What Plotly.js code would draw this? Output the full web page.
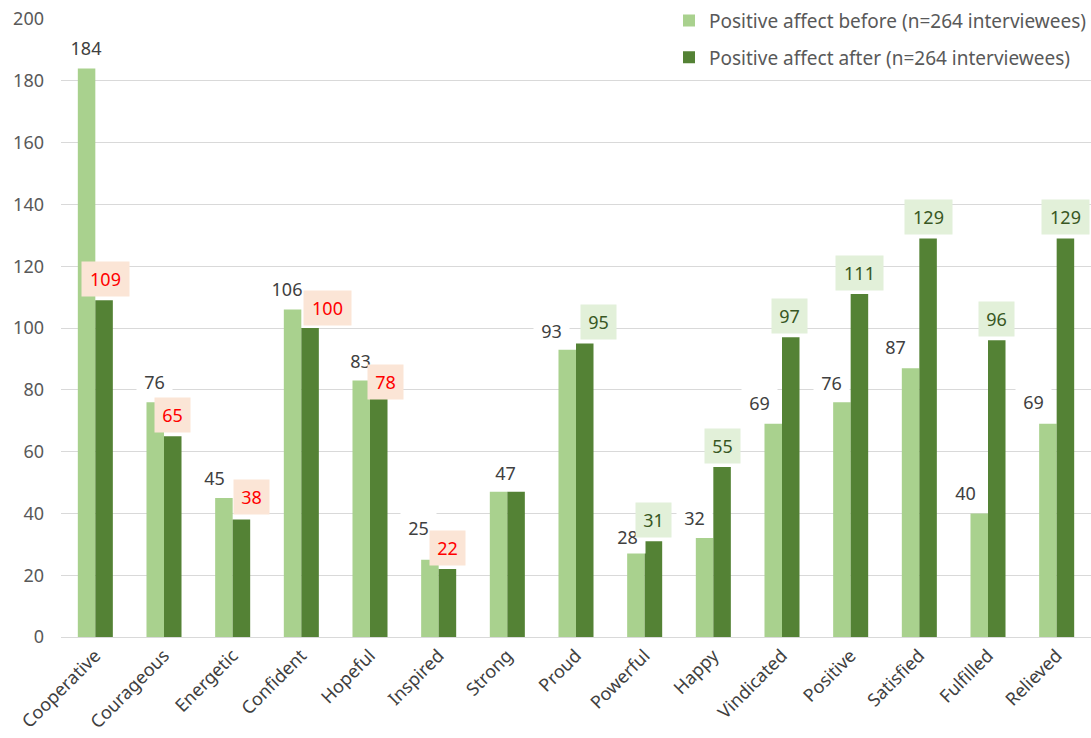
<!DOCTYPE html>
<html>
<head>
<meta charset="utf-8">
<script src="https://cdn.plot.ly/plotly-3.0.1.min.js"></script>
<style>html,body{margin:0;padding:0;background:#fff;}#chart{width:1091px;height:738px;}</style>
</head>
<body>
<div id="chart"></div>
<script>
// ---- data ----
const categories = ["Cooperative","Courageous","Energetic","Confident","Hopeful","Inspired","Strong","Proud","Powerful","Happy","Vindicated","Positive","Satisfied","Fulfilled","Relieved"];
const beforeValues = [184,76,45,106,83,25,47,93,28,32,69,76,87,40,69];
const afterValues  = [109,65,38,100,78,22,47,95,31,55,97,111,129,96,129];
const beforeName = "Positive affect before (n=264 interviewees)";
const afterName  = "Positive affect after (n=264 interviewees)";

// ---- label nudges (pixels, styling only) ----
const beforeDx = [-1,-1,-9,-6,-1,-11,7,-16,-8,-10,-14,-10,-15,-14,-14];
const beforeDy = [20,20,20,20,20,32,19,19,13,20,21,19,21,20,22];
const afterDx  = [1,0,10,17,7,0,0,14,0,0,-1,0,0,0,0];
const afterDy  = [21,21,23,20,14,21,21,21,21,21,21,21,21,21,21];

const FONT = "Noto Sans, Open Sans, sans-serif";
const LIGHT = "#A9D18E", DARK = "#548235";
const HALF = 8.75;

const traces = [
  {type:"bar", name:beforeName, x:categories, y:beforeValues, marker:{color:LIGHT}, legendgroup:"a", hoverinfo:"skip"},
  {type:"bar", name:afterName, x:categories, y:afterValues, marker:{color:DARK}, legendgroup:"b", hoverinfo:"skip"}
];

const annotations = [];
categories.forEach((c,i)=>{
  const bt = String(beforeValues[i]);
  annotations.push({
    x:c, y:beforeValues[i], xref:"x", yref:"y", text:bt, showarrow:false,
    xshift:-HALF+beforeDx[i], yshift:beforeDy[i], xanchor:"center", yanchor:"middle",
    font:{family:FONT, size:18, color:"#404040"}, bgcolor:"#FFFFFF",
    width: bt.length===3?44:33, height:30
  });
  if (afterValues[i] !== beforeValues[i]) {
    const up = afterValues[i] > beforeValues[i];
    const at = String(afterValues[i]);
    annotations.push({
      x:c, y:afterValues[i], xref:"x", yref:"y", text:at, showarrow:false,
      xshift:HALF+afterDx[i], yshift:afterDy[i], xanchor:"center", yanchor:"middle",
      font:{family:FONT, size:18, color: up ? "#385723" : "#FF0000"},
      bgcolor: up ? "#E2F0D9" : "#FBE5D6",
      width: at.length===3?45:33, height:32
    });
  }
});

const layout = {
  width:1091, height:738,
  margin:{l:61, r:0, t:19, b:101},
  paper_bgcolor:"#FFFFFF", plot_bgcolor:"#FFFFFF",
  barmode:"group", bargap:0.49, bargroupgap:0,
  font:{family:FONT, color:"#404040"},
  showlegend:true,
  legend:{x:1, xanchor:"right", y:1.028, yanchor:"top", bgcolor:"#FFFFFF",
    font:{family:FONT, size:19, color:"#595959"}, traceorder:"grouped", tracegroupgap:9,
    itemwidth:30},
  xaxis:{type:"category", tickangle:-45, tickfont:{family:FONT, size:18, color:"#404040"},
    showline:true, linecolor:"#D9D9D9", linewidth:1, ticks:"", showgrid:false},
  yaxis:{range:[0,200], dtick:20, tick0:0, gridcolor:"#D9D9D9", gridwidth:1,
    zeroline:true, zerolinecolor:"#D9D9D9", showline:false, ticks:"",
    ticklabelstandoff:16, tickfont:{family:FONT, size:18, color:"#595959"}},
  annotations:annotations
};

Plotly.newPlot("chart", traces, layout, {staticPlot:true, displayModeBar:false});
</script>
</body>
</html>
